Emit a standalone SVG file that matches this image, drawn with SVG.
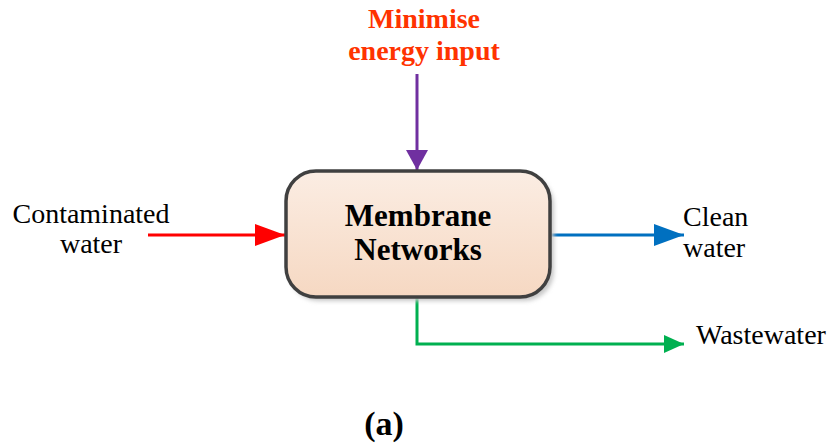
<svg xmlns="http://www.w3.org/2000/svg" width="833" height="447" viewBox="0 0 833 447">
<style>
text{font-family:"Liberation Serif","Times New Roman",serif;fill:#000}
.lbl{font-size:28px}
.b{font-weight:bold}
.conn{fill:none;stroke-width:3}
</style>
<defs>
<linearGradient id="g" x1="0" y1="0" x2="0" y2="1">
<stop offset="0" stop-color="#FBEDE3"/>
<stop offset="1" stop-color="#F6D8C2"/>
</linearGradient>
<marker id="mr" markerUnits="userSpaceOnUse" markerWidth="32" markerHeight="22" refX="30" refY="11" orient="auto"><path d="M0,0 L30,11 L0,22 Z" fill="#FF0000"/></marker>
<marker id="mb" markerUnits="userSpaceOnUse" markerWidth="32" markerHeight="22" refX="30" refY="11" orient="auto"><path d="M0,0 L30,11 L0,22 Z" fill="#0070C0"/></marker>
<marker id="mg" markerUnits="userSpaceOnUse" markerWidth="22" markerHeight="18" refX="20" refY="9" orient="auto"><path d="M0,0 L20,9 L0,18 Z" fill="#00B050"/></marker>
<marker id="mp" markerUnits="userSpaceOnUse" markerWidth="22" markerHeight="22" refX="20" refY="11" orient="auto"><path d="M0,0 L20,11 L0,22 Z" fill="#7030A0"/></marker>
<filter id="sh" x="-10%" y="-10%" width="120%" height="130%"><feGaussianBlur stdDeviation="2"/></filter>
</defs>
<g id="connectors">
<line class="conn" x1="417" y1="74" x2="417" y2="170" stroke="#7030A0" marker-end="url(#mp)"/>
<line class="conn" x1="148" y1="235" x2="285" y2="235" stroke="#FF0000" marker-end="url(#mr)"/>
<line class="conn" x1="550" y1="235" x2="684" y2="235" stroke="#0070C0" marker-end="url(#mb)"/>
<polyline class="conn" points="417,298 417,344 684,344" stroke="#00B050" marker-end="url(#mg)"/>
</g>
<g id="membrane">
<rect x="289" y="175" width="265" height="126" rx="30" fill="#C8C8C8" filter="url(#sh)"/>
<rect x="286" y="171" width="264" height="126" rx="30" fill="url(#g)" stroke="#404040" stroke-width="3.5"/>
<text class="b" x="418" y="226" font-size="31" text-anchor="middle">Membrane</text>
<text class="b" x="418" y="260" font-size="31" text-anchor="middle">Networks</text>
</g>
<g id="energy">
<text class="b" x="424" y="28" font-size="28" text-anchor="middle" style="fill:#FF3300">Minimise</text>
<text class="b" x="424" y="60" font-size="28" text-anchor="middle" style="fill:#FF3300">energy input</text>
</g>
<g id="contaminated">
<text class="lbl" x="91" y="223" text-anchor="middle">Contaminated</text>
<text class="lbl" x="91" y="253" text-anchor="middle">water</text>
</g>
<g id="clean">
<text class="lbl" x="683" y="226">Clean</text>
<text class="lbl" x="683" y="257">water</text>
</g>
<g id="wastewater">
<text class="lbl" x="696" y="344">Wastewater</text>
</g>
<text class="b" x="384" y="435" font-size="34" text-anchor="middle">(a)</text>
</svg>
